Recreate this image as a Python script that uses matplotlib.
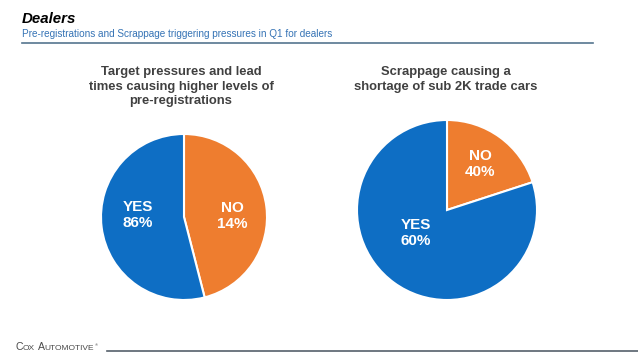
import matplotlib
matplotlib.use('Agg')
import matplotlib.pyplot as plt

plt.rcParams['font.family'] = ['Liberation Sans', 'DejaVu Sans']

# Data (slice sizes as drawn, labels as printed)
answers = ['NO', 'YES']
left_slices = [46, 54]
left_labels = ['14%', '86%']
right_slices = [20, 80]
right_labels = ['40%', '60%']

left_title = 'Target pressures and lead\ntimes causing higher levels of\npre-registrations'
right_title = 'Scrappage causing a\nshortage of sub 2K trade cars'

orange = '#EE7D2F'
blue = '#0E6EC4'
W, H = 638, 359

fig = plt.figure(figsize=(W / 100, H / 100), dpi=100)


def px(x, y):
    return x / W, 1 - y / H


def draw_pie(cx, cy, r, slices):
    ax = fig.add_axes([(cx - r) / W, 1 - (cy + r) / H, 2 * r / W, 2 * r / H])
    ax.pie(slices, colors=[orange, blue], startangle=90, counterclock=False,
           radius=1, wedgeprops=dict(edgecolor='white', linewidth=1.5))
    ax.set_xlim(-1, 1)
    ax.set_ylim(-1, 1)
    ax.axis('off')
    return ax


def label(x, y, name, pct):
    fig.text(*px(x, y), name + '\n' + pct, ha='center', va='center',
             fontsize=11, fontweight='bold', color='white', linespacing=1.2)


# Header
fig.text(*px(22, 23), 'Dealers', fontsize=10.8, fontweight='bold',
         fontstyle='italic', color='black', va='baseline')
fig.text(*px(22, 37), 'Pre-registrations and Scrappage triggering pressures in Q1 for dealers',
         fontsize=7.2, color='#3573B5', va='baseline')
fig.add_artist(plt.Line2D([22 / W, 593 / W], [1 - 43 / H] * 2,
                          color='#55758F', lw=1.2))

# Left pie
draw_pie(184, 217, 83, left_slices)
fig.text(*px(181, 66), left_title, ha='center', va='top', fontsize=9.4,
         fontweight='bold', color='#404040', linespacing=1.28)
label(232, 216, answers[0], left_labels[0])
label(138, 215, answers[1], left_labels[1])

# Right pie
draw_pie(447, 210, 90, right_slices)
fig.text(*px(446, 66), right_title, ha='center', va='top', fontsize=9.4,
         fontweight='bold', color='#404040', linespacing=1.28)
label(480, 164, answers[0], right_labels[0])
label(416, 233, answers[1], right_labels[1])

# Footer logo in small caps, pieces placed one after another
grey = '#4a4a4a'
renderer = fig.canvas.get_renderer()
x = 15
for s, size in [('C', 7.6), ('OX', 6), (' ', 6), ('A', 7.6), ('UTOMOTIVE', 6)]:
    t = fig.text(*px(x, 350), s, fontsize=size, color=grey, va='baseline',
                 fontweight='light')
    if s == ' ':
        x += 3
    else:
        x += t.get_window_extent(renderer).width
fig.text(*px(x + 0.5, 346), '\u00ae', fontsize=3, color=grey, va='baseline')
fig.add_artist(plt.Line2D([107 / W, 1], [1 - 351 / H] * 2,
                          color='#55606B', lw=1.2))

fig.savefig('out.png', dpi=100)
